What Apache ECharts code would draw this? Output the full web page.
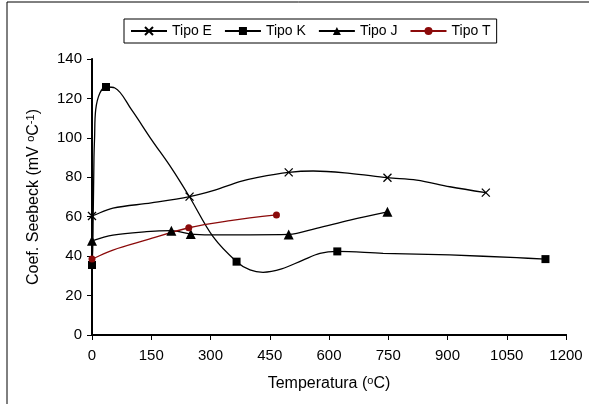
<!DOCTYPE html>
<html style="width:100%;height:100%;">
<head>
<meta charset="UTF-8">
<title>Coef. Seebeck</title>
<script src="https://cdn.jsdelivr.net/npm/echarts@6/dist/echarts.min.js"></script>
</head>
<body style="width:100%;height:100%;margin:0;padding:0;">
<div id="chart" style="width:589px;height:404px;"></div>
<script>
// temperaturas (oC) y coeficientes
var tipoE_x = [-18, 0, 53, 150, 247, 311, 374, 420, 498, 560, 653, 748, 822, 906, 997];
var tipoE_y = [59.4, 60.4, 64.3, 67, 70.2, 73.5, 77.8, 80, 82.5, 83.2, 82, 79.8, 78.6, 75.2, 72.2];
var tipoE_marcas = [0, 247, 498, 748, 997];

var tipoK_x = [-18, 0, 3, 5, 6.5, 9.4, 20, 35.5, 58, 100, 151, 200, 247, 306, 366, 400, 433, 480, 534, 577, 621, 737, 906, 1075, 1148];
var tipoK_y = [30.4, 35.5, 60, 90, 100, 114.3, 122.7, 125.8, 125.3, 114.3, 99, 85, 70, 50, 37.2, 33, 31.8, 33.5, 38, 41.4, 42.4, 41.4, 40.6, 39.2, 38.5];
var tipoK_marcas = [0, 35.5, 366, 621, 1148];

var tipoJ_x = [0, 53, 138, 201, 250, 300, 400, 498, 568, 653, 748];
var tipoJ_y = [47.8, 50.7, 52.4, 52.9, 51.2, 50.8, 50.8, 51, 54.1, 58.3, 62.5];
var tipoJ_marcas = [0, 201, 250, 498, 748];

var tipoT_x = [-18, 0, 53, 138, 245, 350, 467];
var tipoT_y = [37, 38.5, 43.1, 48.2, 54.4, 58, 60.9];
var tipoT_marcas = [0, 245, 467];

var xTicks = [0, 150, 300, 450, 600, 750, 900, 1050, 1200];
var yTicks = [0, 20, 40, 60, 80, 100, 120, 140];

var fuente = '"Liberation Sans", Arial, sans-serif';

// arma los puntos, solo con marcador donde la grafica lo tiene
function puntos(xs, ys, marcas) {
	var res = [];
	for (var i = 0; i < xs.length; i++) {
		var item = { value: [xs[i], ys[i]] };
		if (marcas.indexOf(xs[i]) < 0) item.symbol = 'none';
		res.push(item);
	}
	return res;
}

function serie(nombre, xs, ys, marcas, simbolo, tam, color) {
	return {
		name: nombre,
		type: 'line',
		smooth: 0.35,
		clip: false,
		data: puntos(xs, ys, marcas),
		symbol: simbolo,
		symbolSize: tam,
		showAllSymbol: true,
		lineStyle: { color: color, width: 1.3 },
		itemStyle: { color: color, borderColor: color, borderWidth: simbolo.indexOf('path') === 0 ? 1.3 : 0 },
		emphasis: { disabled: true },
		z: 3
	};
}

var myChart = echarts.init(document.getElementById('chart'));

var option = {
	animation: false,
	textStyle: { fontFamily: fuente },
	graphic: [{
		type: 'rect',
		shape: { x: 7, y: 2, width: 600, height: 420 },
		style: { fill: 'none', stroke: '#000', lineWidth: 1 },
		silent: true,
		z: -1
	}],
	legend: {
		left: 124,
		top: 19,
		padding: [5, 6, 5, 6],
		itemGap: 12,
		itemWidth: 36,
		itemHeight: 10,
		borderColor: '#000',
		borderWidth: 1,
		textStyle: { fontSize: 14, color: '#000', fontFamily: fuente },
		data: ['Tipo E', 'Tipo K', 'Tipo J', 'Tipo T']
	},
	grid: { left: 92, right: 23, top: 59, bottom: 69 },
	xAxis: [{
		type: 'value',
		min: 0,
		max: 1200,
		interval: 150,
		name: 'Temperatura ({s|o}C)',
		nameLocation: 'middle',
		nameGap: 40,
		nameTextStyle: {
			fontSize: 16, color: '#000', fontFamily: fuente,
			rich: { s: { fontSize: 11, verticalAlign: 'top', padding: [0, 0, 7, 0], color: '#000' } }
		},
		axisLine: { show: true, lineStyle: { color: '#000', width: 2 } },
		axisTick: { show: true, inside: false, length: 5, lineStyle: { color: '#000' } },
		axisLabel: {
			margin: 13, fontSize: 15, color: '#000', fontFamily: fuente,
			formatter: function(v) { return xTicks.indexOf(v) >= 0 ? String(v) : ''; }
		},
		splitLine: { show: false }
	}, {
		type: 'value',
		position: 'top',
		min: 0,
		max: 1200,
		axisLine: { show: true, lineStyle: { color: '#000', width: 2 } },
		axisTick: { show: false },
		axisLabel: { show: false },
		splitLine: { show: false }
	}],
	yAxis: [{
		type: 'value',
		min: 0,
		max: 140,
		interval: 20,
		name: 'Coef. Seebeck (mV {s|o}C{s|-1})',
		nameLocation: 'middle',
		nameRotate: 90,
		nameGap: 49,
		nameTextStyle: {
			fontSize: 16, color: '#000', fontFamily: fuente,
			rich: { s: { fontSize: 11, verticalAlign: 'top', padding: [0, 0, 7, 0], color: '#000' } }
		},
		axisLine: { show: true, lineStyle: { color: '#000', width: 1 } },
		axisTick: { show: true, inside: false, length: 5, lineStyle: { color: '#000' } },
		axisLabel: {
			margin: 10, fontSize: 15, color: '#000', fontFamily: fuente,
			formatter: function(v) { return yTicks.indexOf(v) >= 0 ? String(v) : ''; }
		},
		splitLine: { show: false }
	}, {
		type: 'value',
		position: 'right',
		min: 0,
		max: 140,
		axisLine: { show: true, lineStyle: { color: '#000', width: 2 } },
		axisTick: { show: false },
		axisLabel: { show: false },
		splitLine: { show: false }
	}],
	series: [
		serie('Tipo E', tipoE_x, tipoE_y, tipoE_marcas, 'path://M0,0L10,10M10,0L0,10', 8, '#000'),
		serie('Tipo K', tipoK_x, tipoK_y, tipoK_marcas, 'rect', 8, '#000'),
		serie('Tipo J', tipoJ_x, tipoJ_y, tipoJ_marcas, 'triangle', 10, '#000'),
		serie('Tipo T', tipoT_x, tipoT_y, tipoT_marcas, 'circle', 7, '#8b0a0a')
	]
};

myChart.setOption(option);
</script>
</body>
</html>
